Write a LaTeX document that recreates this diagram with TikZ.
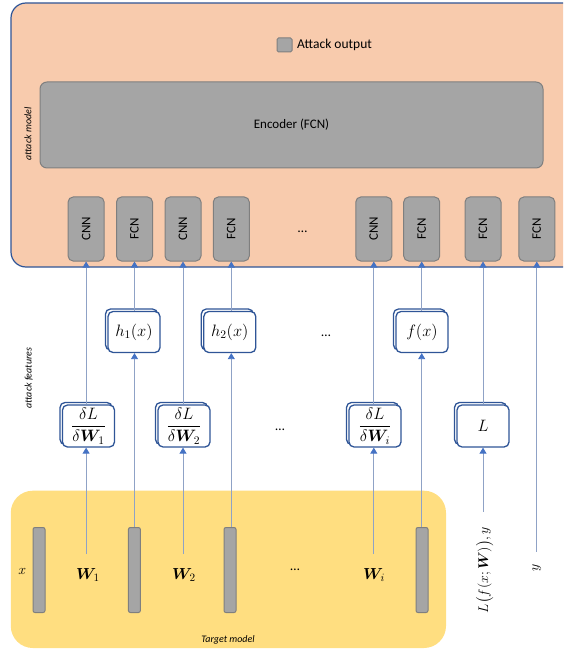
\RequirePackage{fix-cm}
\documentclass[tikz,border=0pt]{standalone}
\usepackage{fontspec}
\usepackage{amsmath,bm}
\usetikzlibrary{arrows.meta,shadows}
\newfontfamily\calib{Carlito}

\definecolor{peach}{HTML}{F8CBAD}
\definecolor{frameblue}{HTML}{2F5597}
\definecolor{boxgray}{HTML}{A5A5A5}
\definecolor{edgegray}{HTML}{7F7F7F}
\definecolor{gold}{HTML}{FFDE80}
\definecolor{wire}{HTML}{8FA2C6}
\definecolor{tipblue}{HTML}{4472C4}

\tikzset{
  unit/.style={draw=edgegray, fill=boxgray, rounded corners=5pt, line width=1pt,
    minimum width=36pt, minimum height=64pt, inner sep=0pt,
    font=\calib\fontsize{13}{15}\selectfont},
  feat/.style={draw=frameblue, fill=white, line width=1.3pt, rounded corners=5pt,
    minimum width=52pt, minimum height=41pt, inner sep=0pt,
    general shadow={shadow xshift=-2.5pt, shadow yshift=2.5pt,
      draw=frameblue, fill=white, line width=1.3pt},
    font=\fontsize{16.5}{18}\selectfont},
  layer/.style={draw=edgegray, fill=boxgray, line width=1pt, rounded corners=2pt,
    minimum width=12pt, minimum height=85pt, inner sep=0pt},
  conn/.style={draw=wire, line width=0.9pt,
    -{Triangle[width=7pt,length=6pt,color=tipblue]}},
  note/.style={font=\calib\itshape\fontsize{10}{11}\selectfont, inner sep=0pt},
  mlabel/.style={font=\fontsize{14}{16}\selectfont, inner sep=0pt},
  sanslabel/.style={font=\calib\fontsize{13.5}{15}\selectfont, inner sep=0pt},
}

\begin{document}
\begin{tikzpicture}[x=1pt,y=-1pt]
\useasboundingbox (0,0) rectangle (563,652);
\clip (0,0) rectangle (563,652);

% containers
\draw[draw=frameblue, fill=peach, line width=1.2pt, rounded corners=15pt]
  (11,3) rectangle (590,267);
\fill[gold, rounded corners=22pt] (10.8,490.7) rectangle (446,648);

% attack model: output and encoder
\node[unit, minimum width=15pt, minimum height=14pt, rounded corners=1.5pt] (out) at (284.5,45) {};
\node[sanslabel, anchor=west] (outtext) at (297,45) {Attack output};
\node[unit, minimum width=503pt, minimum height=86pt, rounded corners=7pt] (enc) at (291.5,125) {Encoder (FCN)};

% input sub-networks
\node[unit] (c1) at (86.1,229) {\rotatebox{90}{CNN}};
\node[unit] (c2) at (134.5,229) {\rotatebox{90}{FCN}};
\node[unit] (c3) at (183,229) {\rotatebox{90}{CNN}};
\node[unit] (c4) at (231.3,229) {\rotatebox{90}{FCN}};
\node[sanslabel] (dotsA) at (302.6,232) {…};
\node[unit] (c5) at (373.8,229) {\rotatebox{90}{CNN}};
\node[unit] (c6) at (421.7,229) {\rotatebox{90}{FCN}};
\node[unit] (c7) at (483,229) {\rotatebox{90}{FCN}};
\node[unit] (c8) at (536.8,229) {\rotatebox{90}{FCN}};

% attack features
\node[feat] (h1) at (134,332) {$h_1(x)$};
\node[feat] (h2) at (229.8,332) {$h_2(x)$};
\node[sanslabel] (dotsB) at (326,336) {…};
\node[feat] (fx) at (422,332) {$f(x)$};

\node[feat, minimum height=42pt] (d1) at (88.5,426) {$\dfrac{\delta L}{\delta \bm{W}_1}$};
\node[feat, minimum height=42pt] (d2) at (184,426) {$\dfrac{\delta L}{\delta \bm{W}_2}$};
\node[sanslabel] (dotsC) at (280,430) {…};
\node[feat, minimum height=42pt] (di) at (375,426) {$\dfrac{\delta L}{\delta \bm{W}_i}$};
\node[feat, minimum height=42pt] (Lb) at (483,426) {$L$};

% target model layers and weights
\node[layer] (l0) at (39,570) {};
\node[layer] (l1) at (134.4,570) {};
\node[layer] (l2) at (230,570) {};
\node[layer] (l3) at (422,570) {};
\node[mlabel] (xl) at (22.3,571) {$x$};
\node[mlabel, font=\fontsize{16}{18}\selectfont] (w1) at (88,575) {$\bm{W}_1$};
\node[mlabel, font=\fontsize{16}{18}\selectfont] (w2) at (184,575) {$\bm{W}_2$};
\node[sanslabel] (dotsD) at (295,570) {…};
\node[mlabel, font=\fontsize{16}{18}\selectfont] (wi) at (374,575) {$\bm{W}_i$};
\node[mlabel] (lossl) at (484.6,570) {\rotatebox{90}{$L\big(f(x;\bm{W})\big),y$}};
\node[mlabel] (yl) at (536.6,568) {\rotatebox{90}{$y$}};

% side notes
\node[note] (tm) at (228,640) {Target model};
\node[note, rotate=90] (am) at (28,134) {attack model};
\node[note, rotate=90] (af) at (28.7,378) {attack features};

% free ends of the connectors
\coordinate (w1top) at (86.1,554);
\coordinate (w2top) at (183,554);
\coordinate (witop) at (373.8,554);
\coordinate (losstop) at (483,511.7);
\coordinate (ytop) at (536.8,551.7);

% connectors
\draw[conn] (w1top) -- (w1top |- d1.south);
\draw[conn] (c1 |- d1.north) -- (c1.south);

\draw[conn] (c2 |- l1.north) -- (c2 |- h1.south);
\draw[conn] (c2 |- h1.north) -- (c2.south);

\draw[conn] (w2top) -- (w2top |- d2.south);
\draw[conn] (c3 |- d2.north) -- (c3.south);

\draw[conn] (c4 |- l2.north) -- (c4 |- h2.south);
\draw[conn] (c4 |- h2.north) -- (c4.south);

\draw[conn] (witop) -- (witop |- di.south);
\draw[conn] (c5 |- di.north) -- (c5.south);

\draw[conn] (c6 |- l3.north) -- (c6 |- fx.south);
\draw[conn] (c6 |- fx.north) -- (c6.south);

\draw[conn] (losstop) -- (losstop |- Lb.south);
\draw[conn] (c7 |- Lb.north) -- (c7.south);

\draw[conn] (ytop) -- (c8.south);
\end{tikzpicture}
\end{document}
